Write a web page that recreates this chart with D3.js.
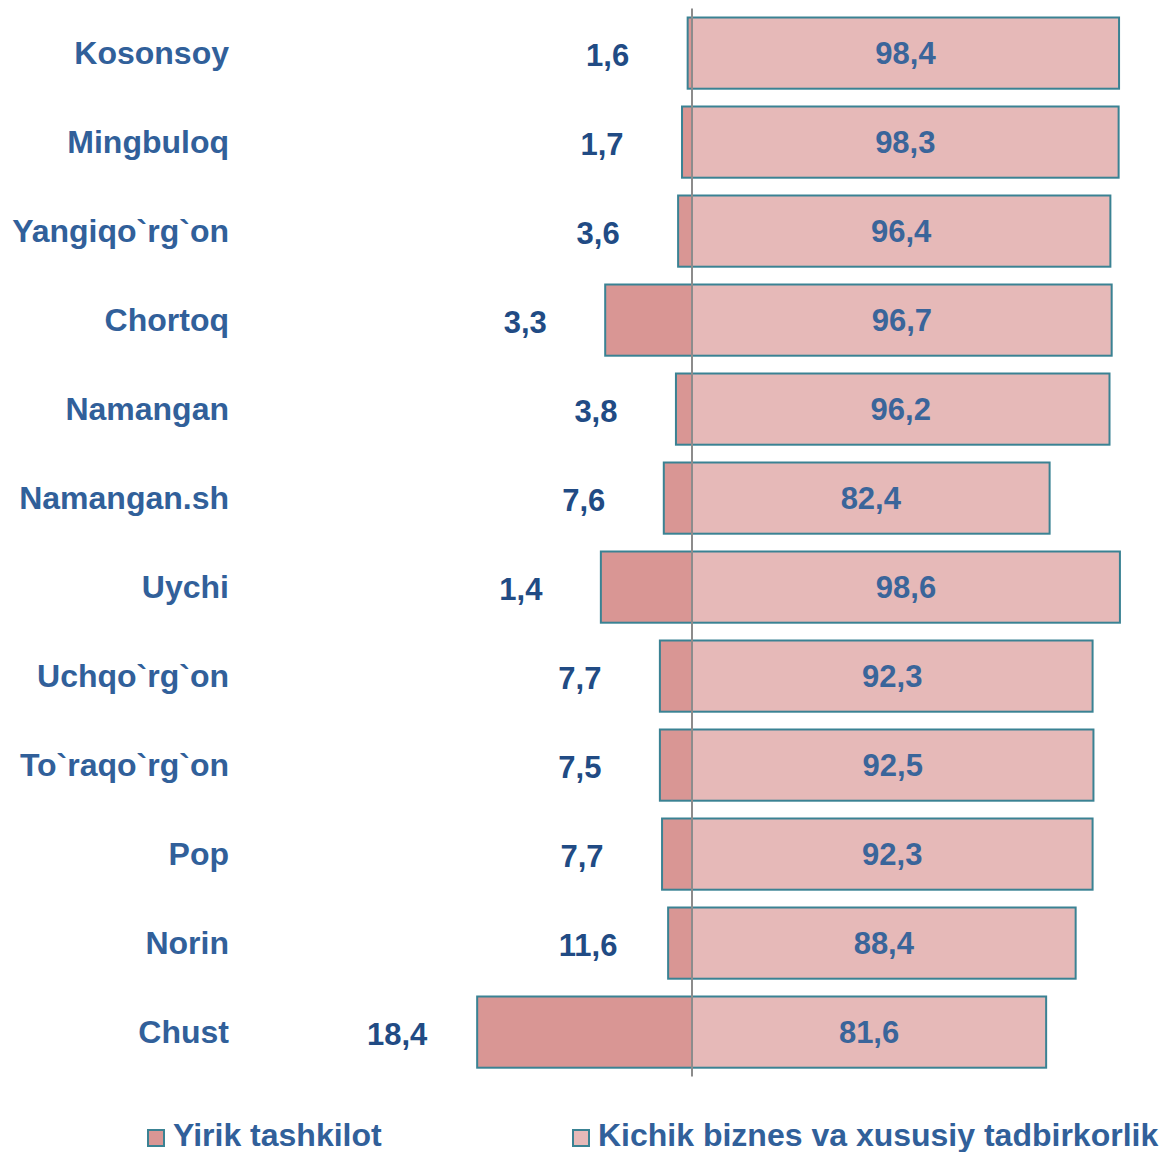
<!DOCTYPE html>
<html>
<head>
<meta charset="utf-8">
<script src="https://cdn.jsdelivr.net/npm/d3@7"></script>
<style>
  html, body { margin: 0; padding: 0; background: #fff; }
  svg { display: block; font-family: "Liberation Sans", Arial, sans-serif; font-weight: bold; }
</style>
</head>
<body>
<svg id="chart" width="1160" height="1152"></svg>
<script>
// ---- data ----
const categories = ["Kosonsoy", "Mingbuloq", "Yangiqo`rg`on", "Chortoq", "Namangan", "Namangan.sh",
                    "Uychi", "Uchqo`rg`on", "To`raqo`rg`on", "Pop", "Norin", "Chust"];
// Kichik biznes va xususiy tadbirkorlik (%)
const kichik = [98.4, 98.3, 96.4, 96.7, 96.2, 82.4, 98.6, 92.3, 92.5, 92.3, 88.4, 81.6];
// Yirik tashkilot (%) as labelled
const yirik = [1.6, 1.7, 3.6, 3.3, 3.8, 7.6, 1.4, 7.7, 7.5, 7.7, 11.6, 18.4];
// Yirik tashkilot bar lengths as drawn in the original picture
const yirikBar = [1.0, 2.3, 3.2, 20.0, 3.7, 6.5, 21.0, 7.4, 7.4, 6.9, 5.5, 49.5];
const seriesNames = ["Yirik tashkilot", "Kichik biznes va xususiy tadbirkorlik"];

// ---- styles ----
const colYirik = "#D99694";
const colKichik = "#E6B9B8";
const colStroke = "#3A8293";
const colCat = "#31609A";
const colValOut = "#214B84";
const colValIn = "#3A659A";

const svg = d3.select("#chart");
const loc = d3.formatLocale({ decimal: ",", thousands: " ", grouping: [3], currency: ["", ""] });
const fmt = loc.format(".1f");

const x = d3.scaleLinear().domain([-50, 100]).range([475, 1126]);
const y = d3.scaleBand().domain(categories).range([8.6, 1076.6]).paddingInner(0.2).paddingOuter(0.1);

const rows = categories.map((c, i) => ({ c, k: kichik[i], yv: yirik[i], yb: yirikBar[i] }));

// right bars
svg.append("g").selectAll("rect").data(rows).join("rect")
  .attr("x", x(0)).attr("y", d => y(d.c))
  .attr("width", d => x(d.k) - x(0)).attr("height", y.bandwidth())
  .attr("fill", colKichik).attr("stroke", colStroke).attr("stroke-width", 2);

// left bars
svg.append("g").selectAll("rect").data(rows).join("rect")
  .attr("x", d => x(-d.yb)).attr("y", d => y(d.c))
  .attr("width", d => x(0) - x(-d.yb)).attr("height", y.bandwidth())
  .attr("fill", colYirik).attr("stroke", colStroke).attr("stroke-width", 2);

// zero line
svg.append("line")
  .attr("x1", x(0)).attr("x2", x(0))
  .attr("y1", y.range()[0]).attr("y2", y.range()[1])
  .attr("stroke", "#8C8C8C").attr("stroke-width", 2);

// category axis labels
const yAxis = d3.axisLeft(y).tickSize(0).tickPadding(0);
const ag = svg.append("g").attr("transform", "translate(229,0)").call(yAxis);
ag.select(".domain").remove();
ag.selectAll("text")
  .attr("fill", colCat).style("font-size", "32px").style("font-weight", "bold")
  .style("font-family", "'Liberation Sans', Arial, sans-serif")
  .attr("dy", "0.35em");

// inside labels (right)
svg.append("g").selectAll("text").data(rows).join("text")
  .attr("x", d => (x(0) + x(d.k)) / 2)
  .attr("y", d => y(d.c) + y.bandwidth() / 2)
  .attr("dy", "0.36em")
  .attr("text-anchor", "middle")
  .attr("fill", colValIn).style("font-size", "31px")
  .text(d => fmt(d.k));

// outside labels (left)
svg.append("g").selectAll("text").data(rows).join("text")
  .attr("x", d => x(-d.yb) - 80)
  .attr("y", d => y(d.c) + y.bandwidth() / 2)
  .attr("dy", "0.4em")
  .attr("text-anchor", "middle")
  .attr("fill", colValOut).style("font-size", "31px")
  .text(d => fmt(d.yv));

// legend
const legend = svg.append("g");
const legX = [148, 573];
const legCols = [colYirik, colKichik];
seriesNames.forEach((name, i) => {
  legend.append("rect")
    .attr("x", legX[i]).attr("y", 1130).attr("width", 16).attr("height", 16)
    .attr("fill", legCols[i]).attr("stroke", colStroke).attr("stroke-width", 2);
  legend.append("text")
    .attr("x", legX[i] + 25).attr("y", 1146)
    .attr("fill", colCat).style("font-size", "32px")
    .text(name);
});
</script>
</body>
</html>
